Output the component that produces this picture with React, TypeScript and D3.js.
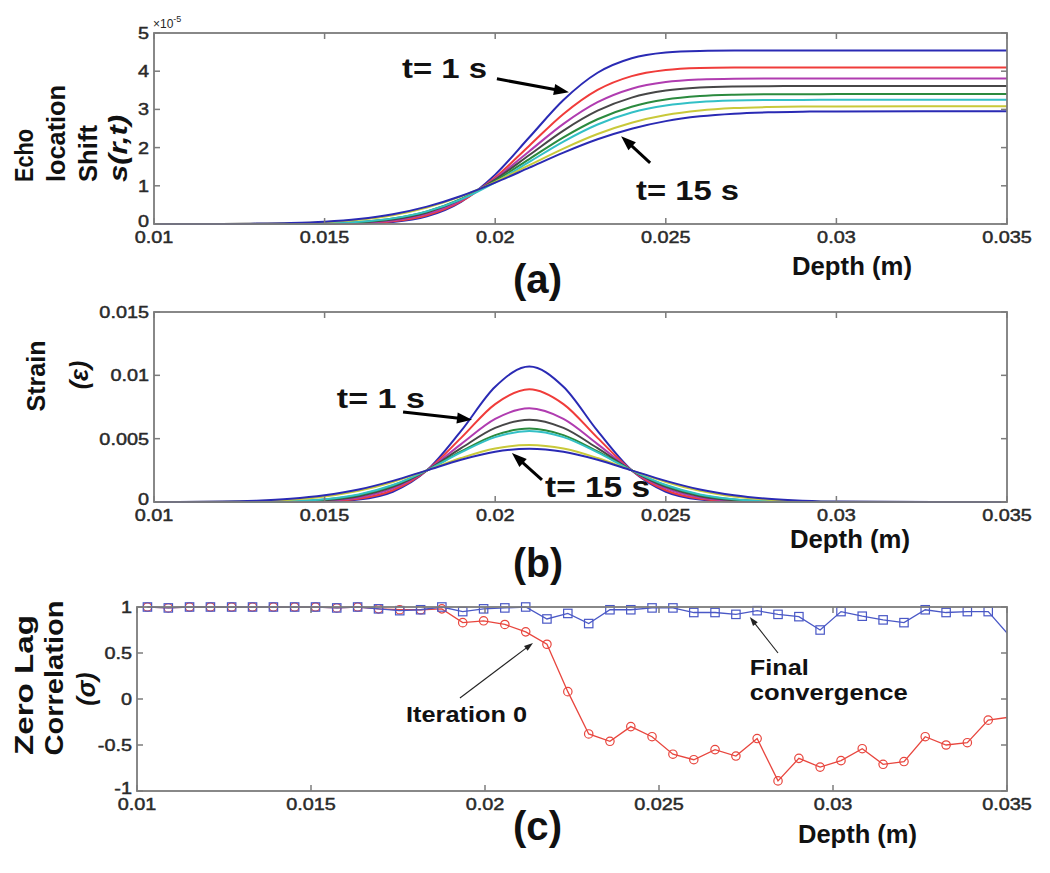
import React from "react";
import * as d3 from "d3";

// ---------- Panel (a) and (b): depth grid (m) ----------
const depthAB = [0.010, 0.012, 0.013, 0.014, 0.015, 0.016, 0.017, 0.018, 0.019, 0.020, 0.021, 0.022, 0.023, 0.024, 0.025, 0.026, 0.027, 0.028, 0.029, 0.030, 0.035];

// Echo location shift s(r,t), units of 1e-5 m (t = 1 s ... 15 s)
const shift1 = [0, 0, 0, 0, 0.001, 0.010, 0.052, 0.200, 0.580, 1.293, 2.270, 3.247, 3.960, 4.340, 4.488, 4.530, 4.539, 4.540, 4.540, 4.540, 4.540];
const shift2 = [0, 0, 0, 0, 0.003, 0.016, 0.069, 0.228, 0.590, 1.220, 2.050, 2.880, 3.510, 3.872, 4.031, 4.084, 4.097, 4.100, 4.100, 4.100, 4.100];
const shift3 = [0, 0, 0, 0.001, 0.006, 0.027, 0.094, 0.268, 0.621, 1.188, 1.905, 2.622, 3.189, 3.542, 3.716, 3.783, 3.804, 3.809, 3.810, 3.810, 3.810];
const shift4 = [0, 0, 0, 0.002, 0.010, 0.038, 0.118, 0.301, 0.644, 1.164, 1.805, 2.446, 2.966, 3.309, 3.492, 3.572, 3.600, 3.608, 3.610, 3.610, 3.610];
const shift5 = [0, 0, 0.001, 0.004, 0.016, 0.052, 0.142, 0.331, 0.658, 1.132, 1.700, 2.268, 2.742, 3.069, 3.258, 3.348, 3.384, 3.396, 3.399, 3.400, 3.400];
const shift6 = [0, 0, 0.001, 0.005, 0.018, 0.056, 0.147, 0.331, 0.645, 1.092, 1.625, 2.158, 2.605, 2.919, 3.103, 3.194, 3.232, 3.245, 3.249, 3.250, 3.250];
const shift7 = [0, 0.001, 0.006, 0.018, 0.046, 0.109, 0.228, 0.428, 0.723, 1.105, 1.540, 1.975, 2.357, 2.652, 2.852, 2.971, 3.034, 3.062, 3.074, 3.078, 3.080];
const shift8 = [0, 0.003, 0.010, 0.026, 0.061, 0.132, 0.257, 0.455, 0.733, 1.082, 1.475, 1.868, 2.217, 2.495, 2.693, 2.818, 2.889, 2.924, 2.940, 2.947, 2.950];

// Strain
const strain1 = [0, 0, 0, 0, 0.00003, 0.00019, 0.00081, 0.00250, 0.00561, 0.00910, 0.01070, 0.00910, 0.00561, 0.00250, 0.00081, 0.00019, 0.00003, 0, 0, 0, 0];
const strain2 = [0, 0, 0, 0.00001, 0.00006, 0.00026, 0.00093, 0.00250, 0.00506, 0.00773, 0.00890, 0.00773, 0.00506, 0.00250, 0.00093, 0.00026, 0.00006, 0.00001, 0, 0, 0];
const strain3 = [0, 0, 0, 0.00002, 0.00010, 0.00036, 0.00108, 0.00250, 0.00457, 0.00656, 0.00740, 0.00656, 0.00457, 0.00250, 0.00108, 0.00036, 0.00010, 0.00002, 0, 0, 0];
const strain4 = [0, 0, 0.00001, 0.00004, 0.00014, 0.00046, 0.00119, 0.00250, 0.00425, 0.00585, 0.00650, 0.00585, 0.00425, 0.00250, 0.00119, 0.00046, 0.00014, 0.00004, 0.00001, 0, 0];
const strain5 = [0, 0, 0.00001, 0.00006, 0.00020, 0.00056, 0.00130, 0.00250, 0.00399, 0.00528, 0.00580, 0.00528, 0.00399, 0.00250, 0.00130, 0.00056, 0.00020, 0.00006, 0.00001, 0, 0];
const strain6 = [0, 0, 0.00002, 0.00007, 0.00022, 0.00060, 0.00134, 0.00250, 0.00391, 0.00512, 0.00560, 0.00512, 0.00391, 0.00250, 0.00134, 0.00060, 0.00022, 0.00007, 0.00002, 0, 0];
const strain7 = [0, 0.00002, 0.00007, 0.00018, 0.00043, 0.00088, 0.00158, 0.00250, 0.00347, 0.00422, 0.00450, 0.00422, 0.00347, 0.00250, 0.00158, 0.00088, 0.00043, 0.00018, 0.00007, 0.00001, 0];
const strain8 = [0, 0.00003, 0.00010, 0.00025, 0.00053, 0.00099, 0.00167, 0.00250, 0.00333, 0.00396, 0.00420, 0.00396, 0.00333, 0.00250, 0.00167, 0.00099, 0.00053, 0.00025, 0.00010, 0.00003, 0];

const seriesColors = ["#2a2ab4", "#f03c3a", "#b03cb0", "#474747", "#2b8a3e", "#33c0c6", "#c9c93a", "#2a2ab4"];
const shiftSeries = [shift1, shift2, shift3, shift4, shift5, shift6, shift7, shift8];
const strainSeries = [strain1, strain2, strain3, strain4, strain5, strain6, strain7, strain8];

// ---------- Panel (c) ----------
const depthC = [0.01030, 0.01090, 0.01151, 0.01211, 0.01272, 0.01332, 0.01392, 0.01453, 0.01513, 0.01574, 0.01634, 0.01694, 0.01755, 0.01815, 0.01876, 0.01936, 0.01996, 0.02057, 0.02117, 0.02178, 0.02238, 0.02298, 0.02359, 0.02419, 0.02480, 0.02540, 0.02600, 0.02661, 0.02721, 0.02782, 0.02842, 0.02902, 0.02963, 0.03023, 0.03084, 0.03144, 0.03204, 0.03265, 0.03325, 0.03386, 0.03446, 0.03520];
const finalConv = [1.0, 0.99, 1.0, 1.0, 1.0, 1.0, 1.0, 1.0, 1.0, 0.99, 1.0, 0.98, 0.96, 0.97, 1.0, 0.95, 0.98, 0.99, 1.0, 0.87, 0.93, 0.82, 0.97, 0.97, 0.99, 0.99, 0.94, 0.94, 0.92, 0.96, 0.92, 0.895, 0.75, 0.95, 0.90, 0.86, 0.83, 0.97, 0.94, 0.95, 0.95, 0.63];
const iteration0 = [1.0, 0.99, 1.0, 1.0, 1.0, 1.0, 1.0, 1.0, 1.0, 0.99, 1.0, 0.98, 0.97, 0.97, 0.98, 0.83, 0.85, 0.81, 0.73, 0.595, 0.08, -0.38, -0.46, -0.30, -0.41, -0.60, -0.66, -0.55, -0.62, -0.43, -0.89, -0.645, -0.74, -0.67, -0.54, -0.71, -0.68, -0.41, -0.50, -0.475, -0.23, -0.19];

// ---------- ticks ----------
const xTickVals = [0.01, 0.015, 0.02, 0.025, 0.03, 0.035];
const xTickLabels = ["0.01", "0.015", "0.02", "0.025", "0.03", "0.035"];
const yTickA = [0, 1, 2, 3, 4, 5];
const yTickALabels = ["0", "1", "2", "3", "4", "5"];
const yTickB = [0, 0.005, 0.01, 0.015];
const yTickBLabels = ["0", "0.005", "0.01", "0.015"];
const yTickC = [-1, -0.5, 0, 0.5, 1];
const yTickCLabels = ["-1", "-0.5", "0", "0.5", "1"];

const FONT = "'Liberation Sans', Arial, Helvetica, sans-serif";
const CW: Record<string, number> = { "0": 0.556, "1": 0.556, "2": 0.556, "3": 0.556, "4": 0.556, "5": 0.556, "6": 0.556, "7": 0.556, "8": 0.556, "9": 0.556, ".": 0.278, "-": 0.333 };
const tickW = (s: string, size: number) => s.split("").reduce((a, c) => a + (CW[c] ?? 0.556), 0) * size * 1.24;

function ArrowMark({ x1, y1, x2, y2, w, head, hw, color }: { x1: number; y1: number; x2: number; y2: number; w: number; head: number; hw: number; color: string }) {
  const ang = Math.atan2(y2 - y1, x2 - x1);
  const bx = x2 - head * Math.cos(ang);
  const by = y2 - head * Math.sin(ang);
  const px = (-Math.sin(ang) * hw) / 2;
  const py = (Math.cos(ang) * hw) / 2;
  return (
    <g>
      <line x1={x1} y1={y1} x2={bx + Math.cos(ang) * 2} y2={by + Math.sin(ang) * 2} stroke={color} strokeWidth={w} />
      <polygon points={`${x2},${y2} ${bx + px},${by + py} ${bx - px},${by - py}`} fill={color} />
    </g>
  );
}

function Frame({ xs, ys, yTicks, yLabels }: { xs: d3.ScaleLinear<number, number>; ys: d3.ScaleLinear<number, number>; yTicks: number[]; yLabels: string[] }) {
  const [x0, x1] = xs.range();
  const [y0, y1] = ys.range();
  const col = "#7c7c7c";
  const tl = { fontSize: 16, fill: "#2a2a2a", stroke: "#2a2a2a", strokeWidth: 0.45 };
  return (
    <g fontFamily={FONT}>
      <rect x={x0} y={y1} width={x1 - x0} height={y0 - y1} fill="none" stroke={col} strokeWidth={1.8} />
      {xTickVals.map((t, i) => (
        <g key={"x" + i}>
          <line x1={xs(t)} x2={xs(t)} y1={y0} y2={y0 - 6} stroke={col} strokeWidth={1.5} />
          <line x1={xs(t)} x2={xs(t)} y1={y1} y2={y1 + 6} stroke={col} strokeWidth={1.5} />
          <text x={xs(t)} y={y0 + 19} textAnchor="middle" {...tl} textLength={tickW(xTickLabels[i], 16)} lengthAdjust="spacingAndGlyphs">
            {xTickLabels[i]}
          </text>
        </g>
      ))}
      {yTicks.map((t, i) => (
        <g key={"y" + i}>
          <line x1={x0} x2={x0 + 6} y1={ys(t)} y2={ys(t)} stroke={col} strokeWidth={1.5} />
          <line x1={x1} x2={x1 - 6} y1={ys(t)} y2={ys(t)} stroke={col} strokeWidth={1.5} />
          <text x={x0 - 5} y={ys(t) + (i === 0 ? 3 : 6)} textAnchor="end" {...tl} textLength={tickW(yLabels[i], 16)} lengthAdjust="spacingAndGlyphs">
            {yLabels[i]}
          </text>
        </g>
      ))}
    </g>
  );
}

function RotLabel({ x, y, text, anchor, len, italic }: { x: number; y: number; text: string; anchor: string; len?: number; italic?: boolean }) {
  return (
    <text
      transform={`translate(${x},${y}) rotate(-90)`}
      textAnchor={anchor}
      fontFamily={FONT}
      fontWeight="bold"
      fontStyle={italic ? "italic" : "normal"}
      fontSize={25}
      fill="#111"
      textLength={len}
      lengthAdjust={len ? "spacingAndGlyphs" : undefined}
    >
      {text}
    </text>
  );
}

function Label({ x, y, text, size, len }: { x: number; y: number; text: string; size: number; len?: number }) {
  return (
    <text x={x} y={y} fontFamily={FONT} fontWeight="bold" fontSize={size} fill="#111" textLength={len} lengthAdjust={len ? "spacingAndGlyphs" : undefined}>
      {text}
    </text>
  );
}

export default function App() {
  const xA = d3.scaleLinear().domain([0.01, 0.035]).range([154, 1007]);
  const yA = d3.scaleLinear().domain([0, 5]).range([224, 33]);
  const yB = d3.scaleLinear().domain([0, 0.015]).range([502, 312]);
  const xC = d3.scaleLinear().domain([0.01, 0.035]).range([137, 1007]);
  const yC = d3.scaleLinear().domain([-1, 1]).range([791, 607]);

  const lineA = d3.line<number>().x((_, i) => xA(depthAB[i])).y((d) => yA(d)).curve(d3.curveMonotoneX);
  const lineB = d3.line<number>().x((_, i) => xA(depthAB[i])).y((d) => yB(d)).curve(d3.curveMonotoneX);
  const lineC = d3.line<number>().x((_, i) => xC(depthC[i])).y((d) => yC(d));

  const thick = { w: 3, head: 15, hw: 11, color: "#000" };
  const thin = { w: 1.1, head: 9, hw: 6, color: "#222" };

  return (
    <svg width={1050} height={873} style={{ position: "absolute", left: 0, top: 0, background: "#fff" }}>
      <defs>
        <clipPath id="clipC">
          <rect x={137} y={595} width={870} height={200} />
        </clipPath>
      </defs>
      <rect x={0} y={0} width={1050} height={873} fill="#fff" />

      {/* ---------- Panel (a) ---------- */}
      {shiftSeries.map((s, i) => (
        <path key={"a" + i} d={lineA(s) || ""} fill="none" stroke={seriesColors[i]} strokeWidth={2} />
      ))}
      <Frame xs={xA} ys={yA} yTicks={yTickA} yLabels={yTickALabels} />
      <text x={153} y={28} fontFamily={FONT} fontSize={12} fill="#262626">
        ×10
        <tspan dy={-6} fontSize={9}>-5</tspan>
      </text>
      <RotLabel x={33} y={182} text="Echo" anchor="start" len={53} />
      <RotLabel x={65} y={182} text="location" anchor="start" len={97} />
      <RotLabel x={97} y={182} text="Shift" anchor="start" len={57} />
      <RotLabel x={127} y={182} text="s(r,t)" anchor="start" len={67} italic />
      <Label x={792} y={275} text="Depth (m)" size={25} len={120} />
      <Label x={513} y={293} text="(a)" size={40} len={49} />
      <Label x={xA(0.01727)} y={yA(3.82)} text="t= 1 s" size={28} len={85} />
      <Label x={xA(0.02413)} y={yA(0.63)} text="t= 15 s" size={28} len={103} />
      <ArrowMark x1={xA(0.02005)} y1={yA(3.8)} x2={xA(0.02216)} y2={yA(3.45)} {...thick} />
      <ArrowMark x1={xA(0.02454)} y1={yA(1.6)} x2={xA(0.02369)} y2={yA(2.3)} {...thick} />

      {/* ---------- Panel (b) ---------- */}
      {strainSeries.map((s, i) => (
        <path key={"b" + i} d={lineB(s) || ""} fill="none" stroke={seriesColors[i]} strokeWidth={2} />
      ))}
      <Frame xs={xA} ys={yB} yTicks={yTickB} yLabels={yTickBLabels} />
      <RotLabel x={45} y={376} text="Strain" anchor="middle" />
      <RotLabel x={88} y={375} text="(ε)" anchor="middle" italic />
      <Label x={790} y={548} text="Depth (m)" size={25} len={120} />
      <Label x={513} y={577} text="(b)" size={40} len={50} />
      <Label x={xA(0.01536)} y={yB(0.00742)} text="t= 1 s" size={28} len={88} />
      <Label x={xA(0.02146)} y={yB(0.0004)} text="t= 15 s" size={29} len={105} />
      <ArrowMark x1={xA(0.0173)} y1={yB(0.00711)} x2={xA(0.01932)} y2={yB(0.0065)} {...thick} />
      <ArrowMark x1={xA(0.02137)} y1={yB(0.00174)} x2={xA(0.02049)} y2={yB(0.00387)} {...thick} />

      {/* ---------- Panel (c) ---------- */}
      <g clipPath="url(#clipC)">
        <path d={lineC(iteration0) || ""} fill="none" stroke="#e8463e" strokeWidth={1.3} />
        {iteration0.map((v, i) => (
          <circle key={"r" + i} cx={xC(depthC[i])} cy={yC(v)} r={4.2} fill="none" stroke="#e8463e" strokeWidth={1.2} />
        ))}
        <path d={lineC(finalConv) || ""} fill="none" stroke="#4a58c6" strokeWidth={1.3} />
        {finalConv.map((v, i) => (
          <rect key={"s" + i} x={xC(depthC[i]) - 4.2} y={yC(v) - 4.2} width={8.4} height={8.4} fill="none" stroke="#4a58c6" strokeWidth={1.2} />
        ))}
      </g>
      <Frame xs={xC} ys={yC} yTicks={yTickC} yLabels={yTickCLabels} />
      <RotLabel x={33} y={685} text="Zero Lag" anchor="middle" len={140} />
      <RotLabel x={63} y={678} text="Correlation" anchor="middle" len={155} />
      <RotLabel x={95} y={689} text="(σ)" anchor="middle" italic />
      <Label x={798} y={843} text="Depth (m)" size={25} len={119} />
      <Label x={513} y={840} text="(c)" size={40} len={49} />
      <Label x={xC(0.01773)} y={yC(-0.25)} text="Iteration 0" size={22} len={121} />
      <Label x={xC(0.02761)} y={yC(0.26)} text="Final" size={22} len={59} />
      <Label x={xC(0.02761)} y={yC(-0.011)} text="convergence" size={22} len={158} />
      <ArrowMark x1={xC(0.01928)} y1={yC(0.011)} x2={xC(0.02138)} y2={yC(0.609)} {...thin} />
      <ArrowMark x1={xC(0.02842)} y1={yC(0.5)} x2={xC(0.02761)} y2={yC(0.89)} {...thin} />
    </svg>
  );
}
